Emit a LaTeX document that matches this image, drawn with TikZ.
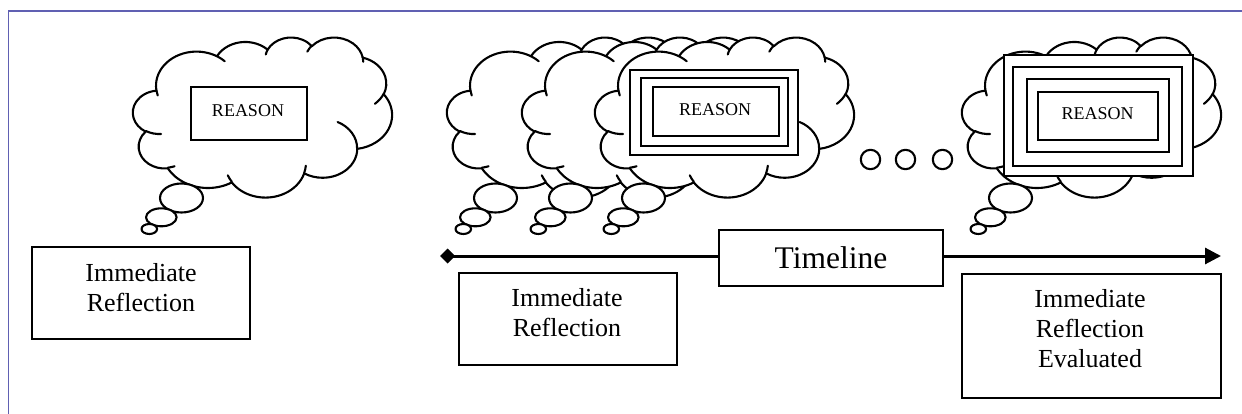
\documentclass[tikz,border=0pt]{standalone}
\usepackage{fontspec}
\setmainfont{Liberation Serif}
\usetikzlibrary{arrows.meta}

\definecolor{framecol}{RGB}{96,96,178}

\tikzset{
  cloudline/.style={line width=2.1pt, line cap=round, line join=round, black},
  bubble/.style={cloudline, fill=white},
  textbox/.style={draw, line width=2.2pt, fill=white, inner sep=0pt},
  reasonbox/.style={draw, line width=2.1pt, fill=white, inner sep=0pt},
  bodytext/.style={align=center, inner sep=0pt, font=\fontsize{26}{30}\selectfont},
  reasontext/.style={inner sep=0pt, font=\fontsize{18}{20}\selectfont},
  timeline/.style={line width=3pt, black},
}

% one arc of the cloud outline: radii, start angle and sweep given as true angles
\newcommand\cloudarc[4]{%
  \pgfextra{%
    \pgfmathsetmacro\arcS{atan2((#1)*sin(#3),(#2)*cos(#3))}%
    \pgfmathsetmacro\arcE{atan2((#1)*sin((#3)+(#4)),(#2)*cos((#3)+(#4)))}%
    \pgfmathsetmacro\arcD{mod(\arcE-\arcS+720,360)}%
  }%
  arc[x radius=#1, y radius=#2, start angle=\arcS, delta angle=\arcD]}

% a thought cloud with its three bubbles; #1 = left edge of the cloud
\newcommand\thoughtcloud[1]{%
  \begin{scope}[shift={(#1,37)}, x={(5.9954pt,0pt)}, y={(0pt,-3.7037pt)}]
    \draw[cloudline, fill=white] (3.900,14.370)
      \cloudarc{6.753}{9.190}{-190.4875}{123.7805}
      \cloudarc{5.333}{7.267}{-144.1024}{89.9452}
      \cloudarc{4.365}{5.945}{-145.8079}{99.7230}
      \cloudarc{4.857}{6.595}{-130.9861}{117.2417}
      \cloudarc{5.333}{7.273}{-78.7089}{109.0269}
      \cloudarc{6.775}{9.220}{-46.2673}{130.2690}
      \cloudarc{5.785}{7.867}{0.6250}{114.0333}
      \cloudarc{6.752}{9.215}{22.4516}{115.1726}
      \cloudarc{7.720}{10.543}{66.2426}{75.7110}
      \cloudarc{4.360}{5.918}{-274.9421}{146.7356}
      \cloudarc{4.345}{5.945}{-246.8285}{152.5189}
      -- cycle;
    \draw[cloudline]
      (4.693,26.177) \cloudarc{4.345}{5.945}{86.7420}{26.4295}
      (6.928,34.899) \cloudarc{4.360}{5.918}{73.6105}{11.4475}
      (16.478,39.090) \cloudarc{6.752}{9.215}{137.6242}{14.0811}
      (28.827,34.751) \cloudarc{6.752}{9.215}{6.4533}{15.9984}
      (34.129,22.954) \cloudarc{5.785}{7.867}{-70.2924}{70.9174}
      (41.798,15.354) \cloudarc{5.333}{7.273}{30.3180}{27.7515}
      (38.324,5.426) \cloudarc{4.857}{6.595}{-13.7443}{14.8589}
      (29.078,3.952) \cloudarc{4.857}{6.595}{-149.1815}{18.1954}
      (22.141,4.720) \cloudarc{4.365}{5.945}{-163.4943}{17.6864}
      (14.000,5.192) \cloudarc{6.753}{9.190}{-66.7070}{12.3194}
      (4.127,15.789) \cloudarc{6.753}{9.190}{157.6544}{11.8582};
  \end{scope}
  \draw[bubble] (#1+48.5,198) ellipse [x radius=21.5, y radius=14.5];
  \draw[bubble] (#1+28.3,217.3) ellipse [x radius=15.3, y radius=9];
  \draw[bubble] (#1+16.3,229) ellipse [x radius=7.8, y radius=5];
}

\begin{document}
\begin{tikzpicture}[x=1pt, y=-1pt]
  \useasboundingbox (0,0) rectangle (1242,414);

  % page frame
  \draw[framecol, line width=1.8pt] (1242,11) -- (8.5,11) -- (8.5,414);

  % single reflection
  \thoughtcloud{133}
  \node[reasonbox, minimum width=116pt, minimum height=53pt] (r0) at (249,113.5) {};
  \node[reasontext] (r0t) at (248,110.5) {REASON};

  \node[textbox, minimum width=218pt, minimum height=92pt] (b0) at (141,293) {};
  \node[bodytext] (b0t) at (141,288) {Immediate\\Reflection};

  % repeated reflections along the timeline
  \thoughtcloud{447}
  \thoughtcloud{522}
  \thoughtcloud{595}
  \node[reasonbox, minimum width=168pt, minimum height=85pt] (r1a) at (714,112.5) {};
  \node[reasonbox, minimum width=147pt, minimum height=68pt] (r1b) at (714.5,112) {};
  \node[reasonbox, minimum width=126pt, minimum height=49pt] (r1c) at (716,111.5) {};
  \node[reasontext] (r1t) at (715,109.5) {REASON};

  % ellipsis
  \draw[cloudline] (870.5,159.5) circle [radius=9.7]
                   (905.5,159.5) circle [radius=9.7]
                   (942.5,159.5) circle [radius=9.7];

  % evaluated reflection
  \thoughtcloud{962}
  \node[reasonbox, minimum width=189pt, minimum height=121pt] (r2a) at (1098.5,115.5) {};
  \node[reasonbox, minimum width=169pt, minimum height=99pt] (r2b) at (1097.5,116.5) {};
  \node[reasonbox, minimum width=142pt, minimum height=73pt] (r2c) at (1098,115.5) {};
  \node[reasonbox, minimum width=120pt, minimum height=48pt] (r2d) at (1098,116) {};
  \node[reasontext] (r2t) at (1097.5,114) {REASON};

  % timeline
  \coordinate (tstart) at (440,256);
  \coordinate (tend) at (1221,256);
  \node[textbox, minimum width=224pt, minimum height=56pt,
        font=\fontsize{31.5}{36}\selectfont] (tl) at (831,258) {Timeline};
  \draw[timeline, {Diamond[length=15pt,width=15pt]}-] (tstart) -- (tstart -| tl.west);
  \draw[timeline, -{Triangle[length=16pt,width=16pt]}] (tend -| tl.east) -- (tend);

  \node[textbox, minimum width=218pt, minimum height=92pt] (b1) at (568,319) {};
  \node[bodytext] (b1t) at (567,313) {Immediate\\Reflection};

  \node[textbox, minimum width=259pt, minimum height=124pt] (b2) at (1091.5,336) {};
  \node[bodytext] (b2t) at (1090,329) {Immediate\\Reflection\\Evaluated};
\end{tikzpicture}
\end{document}
